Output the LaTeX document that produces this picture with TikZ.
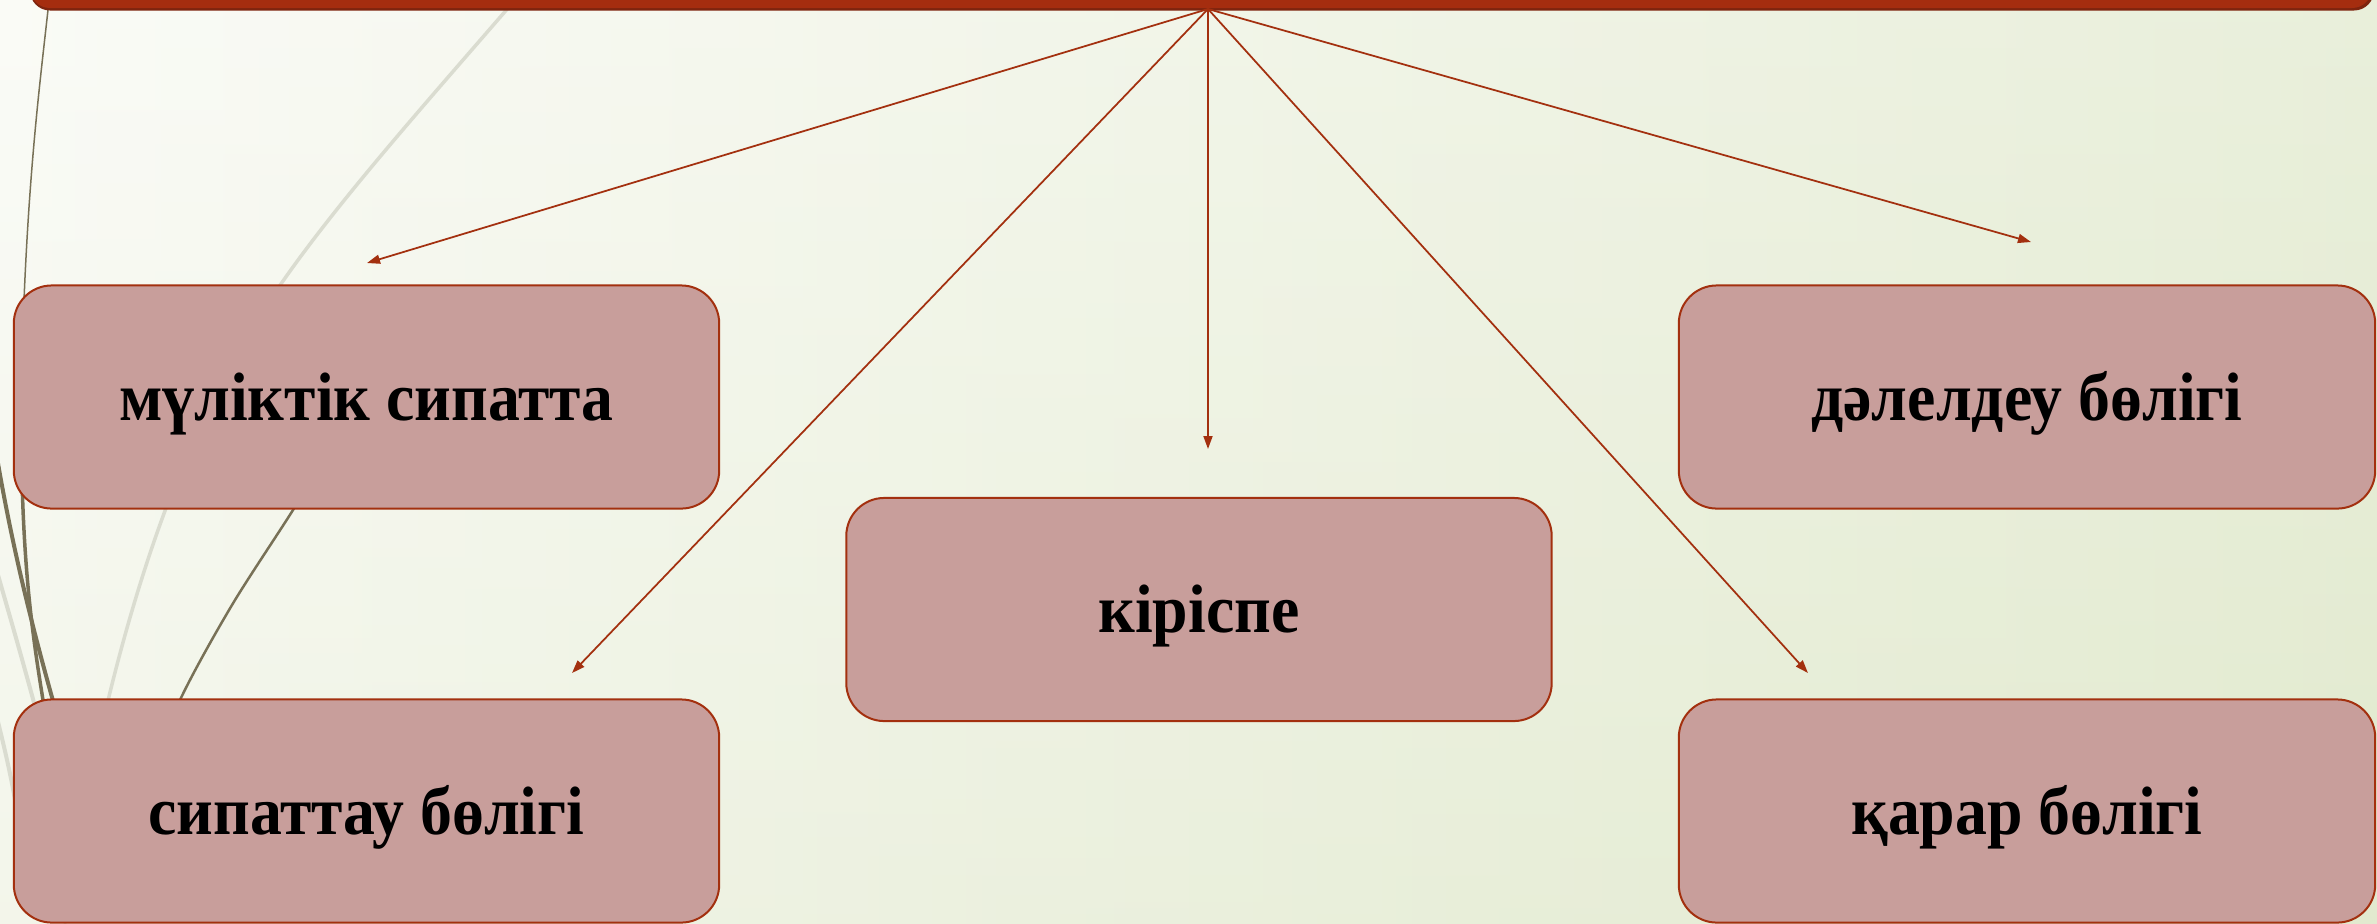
\documentclass[tikz,border=0pt]{standalone}
\usepackage{fontspec}
\setmainfont{Liberation Serif}
\newfontfamily\boxfont{Liberation Serif}[FakeStretch=0.93]
\usetikzlibrary{arrows.meta}
\definecolor{bgL}{HTML}{F9FAF4}
\definecolor{bgR}{HTML}{E2EACF}
\definecolor{barC}{HTML}{A52D0F}
\definecolor{barD}{HTML}{7E240E}
\definecolor{arrC}{HTML}{A3300F}
\definecolor{boxF}{HTML}{C89E9B}
\definecolor{boxB}{HTML}{A3300F}
\definecolor{decoD}{HTML}{787157}
\definecolor{decoL}{HTML}{DADCD0}
\tikzset{
  partbox/.style={draw=boxB, fill=boxF, line width=0.02cm, rounded corners=0.38cm,
    minimum width=7.05cm, minimum height=2.23cm, inner sep=0pt,
    text height=0.6cm, text depth=0.14cm,
    font=\boxfont\fontsize{19.5}{22}\selectfont\bfseries, text=black},
  link/.style={draw=arrC, line width=0.5pt, -{Triangle[length=0.13cm,width=0.09cm]}},
  darkline/.style={draw=decoD, line cap=round},
  lightline/.style={draw=decoL, line cap=round}
}
\begin{document}
\begin{tikzpicture}[x=0.01cm,y=-0.01cm]
\useasboundingbox (0,0) rectangle (2377,923);
\clip (0,0) rectangle (2377,923);
\shade[left color=bgL, right color=bgR] (0,0) rectangle (2377,923);
\shade[top color=white, bottom color=bgR, opacity=0.25] (0,0) rectangle (2377,923);
% decorative curves
\draw[lightline, line width=0.035cm] (515,0) .. controls (420,110) and (330,210) .. (270,300)
  .. controls (210,390) and (120,560) .. (65,923);
\draw[lightline, line width=0.04cm] (-12,540) .. controls (5,600) and (20,650) .. (40,725);
\draw[lightline, line width=0.04cm] (-10,690) .. controls (0,730) and (8,760) .. (16,805);
\draw[darkline, line width=0.015cm] (48,10) .. controls (38,100) and (25,200) .. (21,400);
\draw[darkline, line width=0.035cm] (21,400) .. controls (21,550) and (30,620) .. (43,700) -- (55,760);
\draw[darkline, line width=0.04cm] (-12,400) .. controls (5,520) and (30,620) .. (57,715);
\draw[darkline, line width=0.025cm] plot[smooth] coordinates {(400,330) (345,425) (293,510) (232,605) (180,700) (140,800)};
% top bar
\fill[barD, rounded corners=0.2cm] (30,-60) rectangle (2374,10.5);
\fill[barC, rounded corners=0.2cm] (30,-60) rectangle (2372,8);
% boxes
\node[partbox] (mulik) at (366.5,397) {мүліктік сипатта};
\node[partbox] (sipat) at (366.5,811) {сипаттау бөлігі};
\node[partbox] (kirispe) at (1199,609.5) {кіріспе};
\node[partbox, minimum width=6.96cm] (dalel) at (2027,397) {дәлелдеу бөлігі};
\node[partbox, minimum width=6.96cm] (karar) at (2027,811) {қарар бөлігі};
% connectors
\coordinate (O) at (1208,9);
\coordinate (tA) at (367,263);
\coordinate (tB) at (572,673);
\coordinate (tC) at (1208,449);
\coordinate (tD) at (2031,242);
\coordinate (tE) at (1808,673);
\draw[link] (O) -- (tA);
\draw[link] (O) -- (tB);
\draw[link] (O) -- (tC);
\draw[link] (O) -- (tD);
\draw[link] (O) -- (tE);
\end{tikzpicture}
\end{document}
